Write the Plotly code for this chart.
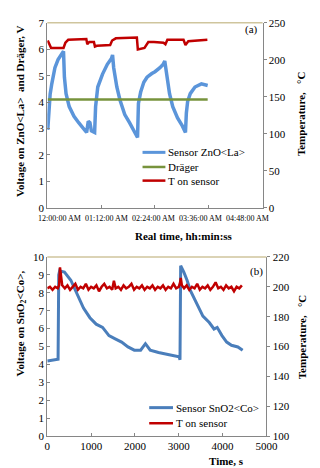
import pandas as pd
import plotly.graph_objects as go

# ---- panel (a): ZnO<La> sensor, real time in minutes from 12:00:00 AM ----
zno_min = [0.6, 1.9, 3.8, 6.0, 10.2, 14.4, 18.7, 21.7, 22.9, 25.1, 29.3, 35.7, 42.0, 48.4,
           52.6, 54.8, 57.0, 59.0, 63.3, 64.6, 67.5, 73.9, 80.3, 85.8, 87.3, 88.8, 93.0,
           97.2, 103.6, 110.0, 116.3, 120.7, 121.9, 124.9, 129.1, 133.4, 139.8, 144.0,
           150.7, 155.1, 157.1, 159.3, 163.5, 167.8, 174.2, 180.6, 184.8, 186.0, 187.7,
           191.2, 197.5, 206.1, 214.5]
zno_volt = [2.95, 3.6, 4.3, 4.69, 5.3, 5.61, 5.8, 5.92, 4.94, 4.32, 3.83, 3.46, 3.22, 2.97,
            2.85, 3.28, 3.22, 2.91, 2.85, 3.83, 4.57, 5.06, 5.43, 5.65, 5.78, 5.3, 4.57,
            4.08, 3.53, 3.22, 2.91, 2.66, 3.95, 4.38, 4.75, 4.94, 5.08, 5.15,
            5.3, 5.43, 5.55, 5.06, 4.32, 3.83, 3.4, 3.1, 2.85, 3.59, 4.02,
            4.32, 4.57, 4.69, 4.63]

drager_min = [0.6, 214.5]
drager_volt = [4.1, 4.1]

ta_min = [0.6, 2.5, 5.1, 21.7, 24.2, 28.0, 52.2, 53.5, 56.1, 62.4, 63.7, 66.3, 84.1, 86.7,
          91.7, 119.8, 121.1, 130.0, 135.1, 142.7, 155.4, 158.0, 160.6, 182.2, 184.8,
          188.6, 214.1]
ta_temp = [226, 222, 216, 216, 223, 227, 228, 221, 224, 224, 218, 219, 220, 226,
           229, 230, 214, 216, 224, 224, 223, 221, 227, 227, 220,
           225, 227]

# ---- panel (b): SnO2<Co> sensor, time in s ----
sno_s = [0, 246, 261, 283, 304, 391, 537, 680, 826, 972, 1115, 1261, 1407, 1550, 1696,
         1841, 1985, 2130, 2239, 2348, 2457, 2537, 2754, 3007, 3028, 3043, 3115, 3189,
         3261, 3407, 3550, 3696, 3804, 3876, 3985, 4093, 4202, 4348, 4457]
sno_volt = [4.2, 4.3, 9.0, 9.24, 9.2, 9.15, 8.7, 7.97, 7.15, 6.61, 6.25, 6.07, 5.61, 5.43,
            5.25, 4.98, 4.8, 4.8, 5.16, 4.8, 4.71, 4.67, 4.56, 4.43, 4.26, 9.51, 9.15,
            8.7, 8.15, 7.42, 6.7, 6.34, 5.98, 6.07, 5.61, 5.25, 5.07, 4.98, 4.8]

tb_s = [0, 60, 120, 180, 240, 270, 290, 310, 340, 400, 460, 520, 580, 640, 700, 760, 820,
        880, 940, 1000, 1060, 1120, 1180, 1240, 1300, 1360, 1420, 1480, 1520, 1560, 1620,
        1680, 1740, 1800, 1860, 1920, 1980, 2040, 2100, 2160, 2220, 2280, 2340, 2400,
        2460, 2520, 2580, 2640, 2700, 2760, 2820, 2880, 2940, 3000, 3030, 3045, 3070,
        3120, 3180, 3240, 3300, 3360, 3420, 3480, 3540, 3600, 3660, 3720, 3780, 3840,
        3900, 3960, 4020, 4080, 4140, 4200, 4260, 4320, 4380, 4440]
tb_temp = [199, 200, 198, 200, 199, 201, 213, 208, 201, 199, 201, 198, 200, 202, 198, 200,
           199, 202, 198, 200, 199, 201, 197, 200, 202, 199, 200, 198, 204, 199, 200,
           198, 201, 199, 200, 202, 198, 200, 199, 201, 198, 200, 199, 201,
           198, 200, 199, 201, 198, 200, 199, 202, 199, 200, 203, 206, 201,
           199, 201, 198, 200, 199, 202, 198, 200, 199, 201, 198, 200, 203,
           199, 200, 198, 201, 199, 200, 197, 200, 199, 201]

time_ticks_min = [0, 72, 144, 216, 288]
time_tick_labels = ["12:00:00 AM", "01:12:00 AM", "02:24:00 AM", "03:36:00 AM", "04:48:00 AM"]

base = pd.Timestamp("2000-01-01")
def to_clock(mins):
    return base + pd.to_timedelta(mins, unit="m")

SERIF = "Liberation Serif"
AXIS_GREY = "#868686"
FRAME_TAN = "#CFC59D"
W, H = 320, 468

fig = go.Figure()

fig.add_trace(go.Scatter(x=to_clock(zno_min), y=zno_volt, mode="lines",
                         line=dict(color="#5B95DA", width=3.5), xaxis="x", yaxis="y"))
fig.add_trace(go.Scatter(x=to_clock(drager_min), y=drager_volt, mode="lines",
                         line=dict(color="#77933C", width=2.5), xaxis="x", yaxis="y"))
fig.add_trace(go.Scatter(x=to_clock(ta_min), y=ta_temp, mode="lines",
                         line=dict(color="#C00000", width=2.5), xaxis="x", yaxis="y2"))

fig.add_trace(go.Scatter(x=sno_s, y=sno_volt, mode="lines",
                         line=dict(color="#4A7EBB", width=3), xaxis="x2", yaxis="y3"))
fig.add_trace(go.Scatter(x=tb_s, y=tb_temp, mode="lines",
                         line=dict(color="#C00000", width=2.5), xaxis="x2", yaxis="y4"))

tick_font = dict(family=SERIF, size=11, color="black")
common = dict(showgrid=False, zeroline=False, showline=True, linecolor=AXIS_GREY, linewidth=1,
              tickcolor=AXIS_GREY, ticklen=3, tickfont=tick_font)

fig.update_layout(
    width=W, height=H,
    margin=dict(l=0, r=0, t=0, b=0),
    paper_bgcolor="white", plot_bgcolor="white",
    showlegend=False,
    # the clock labels are laid out separately below (Excel squeezes them left of their ticks)
    xaxis=dict(domain=[0.119, 0.825], anchor="y", type="date",
               range=[to_clock(0), to_clock(288)],
               tickvals=to_clock(time_ticks_min), showticklabels=False,
               ticks="inside", **common),
    yaxis=dict(domain=[0.5748, 0.9808], anchor="x", range=[0, 7], dtick=1,
               ticks="inside", **common),
    yaxis2=dict(domain=[0.5748, 0.9808], anchor="x", overlaying="y", side="right",
                range=[0, 250], dtick=50, ticks="outside", **common),
    xaxis2=dict(domain=[0.119, 0.8375], anchor="y3", range=[0, 5000], dtick=1000,
                ticks="inside", **common),
    yaxis3=dict(domain=[0.0741, 0.4673], anchor="x2", range=[0, 10], dtick=1,
                ticks="inside", **common),
    yaxis4=dict(domain=[0.0741, 0.4673], anchor="x2", overlaying="y3", side="right",
                range=[100, 220], dtick=20, ticks="outside", **common),
)

# tan top frame lines of both plots
for xref, yref in [("x domain", "y domain"), ("x2 domain", "y3 domain")]:
    fig.add_shape(type="line", xref=xref, yref=yref, x0=0, x1=1, y0=1, y1=1,
                  line=dict(color=FRAME_TAN, width=1.5))

label_font = dict(family=SERIF, size=11, color="black")

# clock tick labels, evenly spread under the axis as in the original
for i, lab in enumerate(time_tick_labels):
    fig.add_annotation(text=lab, x=(51 + 49.2 * i) / W, y=1 - 210 / H, xref="paper", yref="paper",
                       showarrow=False, font=dict(family=SERIF, size=8, color="black"),
                       xanchor="center", yanchor="middle")

# hand-drawn legends (pixel positions of the key samples)
legend_items = [
    ("Sensor ZnO&lt;La&gt;", "#5B95DA", 3, 138, 162, 142),
    ("Dräger", "#77933C", 2.5, 138, 162, 157),
    ("T on sensor", "#C00000", 2.5, 138, 162, 171),
    ("Sensor SnO2&lt;Co&gt;", "#4A7EBB", 3, 145, 170, 404),
    ("T on sensor", "#C00000", 2.5, 145, 170, 420),
]
for text, color, width, x0, x1, y in legend_items:
    fig.add_shape(type="line", xref="paper", yref="paper", x0=x0 / W, x1=x1 / W,
                  y0=1 - y / H, y1=1 - y / H, line=dict(color=color, width=width))
    fig.add_annotation(text=text, x=(x1 + 1) / W, y=1 - y / H, xref="paper", yref="paper",
                       showarrow=False, font=label_font, xanchor="left", yanchor="middle")

notes = [
    dict(text="<b>Voltage on ZnO&lt;La&gt;  and Dräger, V</b>", x=10, y=100, textangle=-90),
    dict(text="<b>Temperature,   °C</b>", x=305, y=102, textangle=-90),
    dict(text="<b>Real time, hh:min:ss</b>", x=181, y=228, textangle=0),
    dict(text="(a)", x=252, y=16, textangle=0),
    dict(text="<b>Voltage on SnO<sub>2</sub>&lt;Co&gt;,</b>", x=10, y=318, textangle=-90),
    dict(text="<b>Temperature,   °C</b>", x=305, y=331, textangle=-90),
    dict(text="<b>Time, s</b>", x=226, y=459, textangle=0),
    dict(text="(b)", x=258, y=264, textangle=0),
]
for n in notes:
    fig.add_annotation(text=n["text"], x=n["x"] / W, y=1 - n["y"] / H, xref="paper", yref="paper",
                       showarrow=False, textangle=n["textangle"], font=label_font,
                       xanchor="center", yanchor="middle")

fig.write_html("out.html")
